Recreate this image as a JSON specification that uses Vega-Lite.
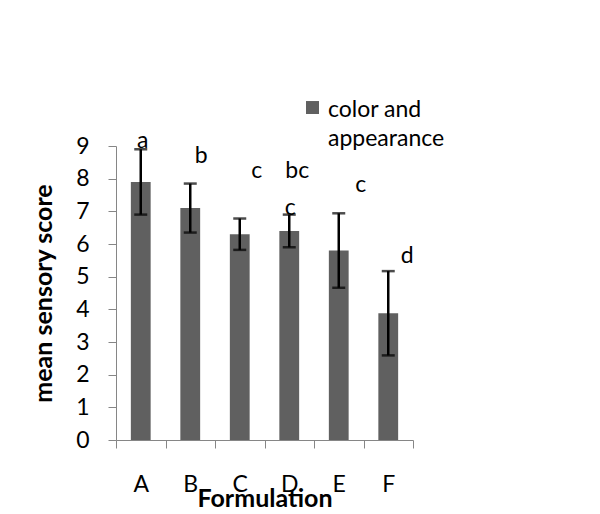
{
  "$schema": "https://vega.github.io/schema/vega-lite/v6.json",
  "width": 297,
  "height": 294,
  "autosize": {"type": "none"},
  "padding": {"left": 116, "top": 146, "right": 187, "bottom": 74},
  "background": "white",
  "config": {
    "font": "Lato",
    "view": {"stroke": null},
    "style": {"guide-label": {"lineHeight": 29}},
    "axis": {
      "domainColor": "#868686",
      "tickColor": "#868686",
      "tickSize": 8,
      "grid": false,
      "labelColor": "black",
      "labelFont": "Lato",
      "labelFontSize": 23,
      "titleFont": "Lato",
      "titleFontWeight": "bold",
      "titleColor": "black"
    },
    "axisY": {"labelOverlap": false, "labelFlush": false, "labelPadding": 19, "titleFontSize": 25, "titlePadding": 19}
  },
  "datasets": {
    "scores": [
      {"Formulation": "A", "mean": 7.9, "sd": 1.0, "series": "color and appearance"},
      {"Formulation": "B", "mean": 7.1, "sd": 0.75, "series": "color and appearance"},
      {"Formulation": "C", "mean": 6.3, "sd": 0.48, "series": "color and appearance"},
      {"Formulation": "D", "mean": 6.4, "sd": 0.5, "series": "color and appearance"},
      {"Formulation": "E", "mean": 5.8, "sd": 1.14, "series": "color and appearance"},
      {"Formulation": "F", "mean": 3.88, "sd": 1.29, "series": "color and appearance"}
    ],
    "letters": [
      {"id": 1, "Formulation": "A", "letter": "a", "pos": 8.94},
      {"id": 2, "Formulation": "B", "letter": "b", "pos": 8.48},
      {"id": 3, "Formulation": "C", "letter": "c", "pos": 8.02},
      {"id": 4, "Formulation": "D", "letter": "bc", "pos": 8.02},
      {"id": 5, "Formulation": "D", "letter": "c", "pos": 6.89},
      {"id": 6, "Formulation": "E", "letter": "c", "pos": 7.59},
      {"id": 7, "Formulation": "F", "letter": "d", "pos": 5.42}
    ]
  },
  "layer": [
    {
      "data": {"name": "scores"},
      "mark": {"type": "bar", "width": {"band": 0.4}},
      "encoding": {
        "x": {
          "field": "Formulation", "type": "nominal",
          "scale": {"paddingInner": 0, "paddingOuter": 0},
          "axis": {"labelAngle": 0, "tickBand": "extent", "labelPadding": 25, "title": "Formulation", "titleFontSize": 25, "titlePadding": -10}
        },
        "y": {
          "field": "mean", "type": "quantitative",
          "scale": {"domain": [0, 9]},
          "title": "mean sensory score",
          "axis": {"values": [0, 1, 2, 3, 4, 5, 6, 7, 8, 9]}
        },
        "color": {
          "field": "series", "type": "nominal",
          "scale": {"range": ["#606060"]},
          "legend": {
            "title": null,
            "orient": "none",
            "legendX": 185,
            "legendY": -41,
            "symbolType": "M-1,-2.38H1V-0.38H-1Z",
            "symbolSize": 169,
            "symbolStrokeWidth": 0,
            "labelFont": "Lato",
            "labelFontSize": 23,
            "labelColor": "black",
            "labelBaseline": "alphabetic",
            "labelOffset": 4,
            "labelLimit": 300,
            "labelExpr": "['color and', 'appearance']"
          }
        }
      }
    },
    {
      "data": {"name": "scores"},
      "mark": {"type": "errorbar", "ticks": {"size": 13, "thickness": 2.5, "color": "black"}, "rule": {"strokeWidth": 2.5, "color": "black"}, "color": "black"},
      "encoding": {
        "x": {"field": "Formulation", "type": "nominal"},
        "y": {"field": "mean", "type": "quantitative", "title": "mean sensory score", "axis": {"values": [0, 1, 2, 3, 4, 5, 6, 7, 8, 9]}},
        "yError": {"field": "sd"}
      }
    },
    {"data": {"name": "letters"}, "transform": [{"filter": "datum.id == 1"}], "mark": {"type": "text", "fontSize": 23, "font": "Lato", "color": "black", "baseline": "alphabetic", "dx": 2}, "encoding": {"x": {"field": "Formulation", "type": "nominal"}, "y": {"field": "pos", "type": "quantitative", "title": "mean sensory score", "axis": {"values": [0, 1, 2, 3, 4, 5, 6, 7, 8, 9]}}, "text": {"field": "letter"}}},
    {"data": {"name": "letters"}, "transform": [{"filter": "datum.id == 2"}], "mark": {"type": "text", "fontSize": 23, "font": "Lato", "color": "black", "baseline": "alphabetic", "dx": 11}, "encoding": {"x": {"field": "Formulation", "type": "nominal"}, "y": {"field": "pos", "type": "quantitative", "title": "mean sensory score", "axis": {"values": [0, 1, 2, 3, 4, 5, 6, 7, 8, 9]}}, "text": {"field": "letter"}}},
    {"data": {"name": "letters"}, "transform": [{"filter": "datum.id == 3"}], "mark": {"type": "text", "fontSize": 23, "font": "Lato", "color": "black", "baseline": "alphabetic", "dx": 17}, "encoding": {"x": {"field": "Formulation", "type": "nominal"}, "y": {"field": "pos", "type": "quantitative", "title": "mean sensory score", "axis": {"values": [0, 1, 2, 3, 4, 5, 6, 7, 8, 9]}}, "text": {"field": "letter"}}},
    {"data": {"name": "letters"}, "transform": [{"filter": "datum.id == 4"}], "mark": {"type": "text", "fontSize": 23, "font": "Lato", "color": "black", "baseline": "alphabetic", "dx": 8}, "encoding": {"x": {"field": "Formulation", "type": "nominal"}, "y": {"field": "pos", "type": "quantitative", "title": "mean sensory score", "axis": {"values": [0, 1, 2, 3, 4, 5, 6, 7, 8, 9]}}, "text": {"field": "letter"}}},
    {"data": {"name": "letters"}, "transform": [{"filter": "datum.id == 5"}], "mark": {"type": "text", "fontSize": 23, "font": "Lato", "color": "black", "baseline": "alphabetic", "dx": 1}, "encoding": {"x": {"field": "Formulation", "type": "nominal"}, "y": {"field": "pos", "type": "quantitative", "title": "mean sensory score", "axis": {"values": [0, 1, 2, 3, 4, 5, 6, 7, 8, 9]}}, "text": {"field": "letter"}}},
    {"data": {"name": "letters"}, "transform": [{"filter": "datum.id == 6"}], "mark": {"type": "text", "fontSize": 23, "font": "Lato", "color": "black", "baseline": "alphabetic", "dx": 22}, "encoding": {"x": {"field": "Formulation", "type": "nominal"}, "y": {"field": "pos", "type": "quantitative", "title": "mean sensory score", "axis": {"values": [0, 1, 2, 3, 4, 5, 6, 7, 8, 9]}}, "text": {"field": "letter"}}},
    {"data": {"name": "letters"}, "transform": [{"filter": "datum.id == 7"}], "mark": {"type": "text", "fontSize": 23, "font": "Lato", "color": "black", "baseline": "alphabetic", "dx": 19}, "encoding": {"x": {"field": "Formulation", "type": "nominal"}, "y": {"field": "pos", "type": "quantitative", "title": "mean sensory score", "axis": {"values": [0, 1, 2, 3, 4, 5, 6, 7, 8, 9]}}, "text": {"field": "letter"}}}
  ]
}
